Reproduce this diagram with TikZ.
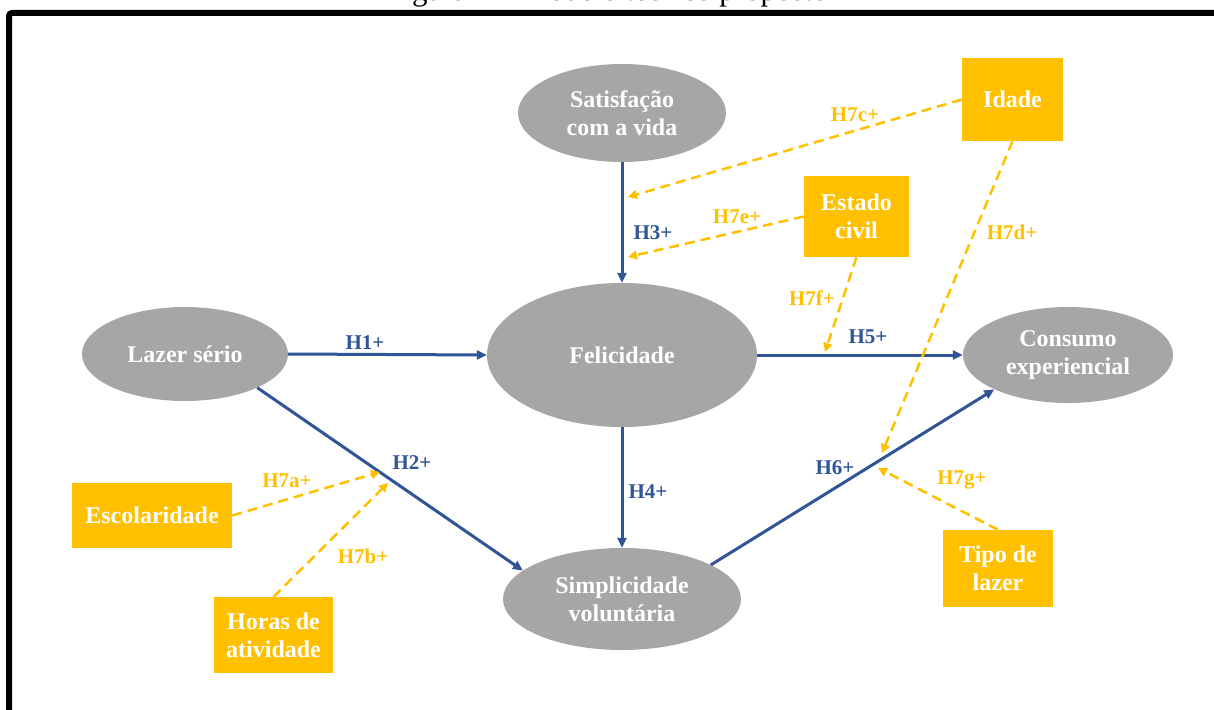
\documentclass[tikz,border=0pt]{standalone}
\usepackage{fontspec}
\setmainfont{Liberation Serif}
\usetikzlibrary{shapes.geometric,arrows.meta}
\definecolor{nodegray}{HTML}{A6A6A6}
\definecolor{gold}{HTML}{FFC000}
\definecolor{pathblue}{HTML}{2F5597}
\begin{document}
\begin{tikzpicture}[x=1pt,y=-1pt,
  latent/.style={ellipse, fill=nodegray, text=white, align=center, inner sep=0pt,
    font=\bfseries\fontsize{24}{28}\selectfont},
  control/.style={rectangle, fill=gold, text=white, align=center, inner sep=0pt,
    font=\bfseries\fontsize{24}{28}\selectfont},
  effect/.style={draw=pathblue, line width=3pt, -{Triangle[length=10pt,width=9pt]}},
  moderation/.style={draw=gold, line width=2.5pt, dash pattern=on 10pt off 6pt,
    -{Triangle[length=9pt,width=9pt]}},
  blab/.style={text=pathblue, inner sep=0pt, font=\bfseries\fontsize{21}{24}\selectfont},
  glab/.style={text=gold, inner sep=0pt, font=\bfseries\fontsize{21}{24}\selectfont}
]
\useasboundingbox (0,0) rectangle (1214,709);
\clip (0,0) rectangle (1214,709);

% caption and frame
\node[anchor=base, inner sep=0pt, font=\fontsize{31}{31}\selectfont] (caption) at (607,1)
  {Figura 7 -- Modelo teórico proposto};
\draw[line width=6pt, rounded corners=3pt] (9,760) -- (9,13) -- (1260,13);

% constructs
\node[latent, minimum width=208pt, minimum height=98pt] (sat) at (622,113) {Satisfação\\com a vida};
\node[latent, minimum width=270pt, minimum height=144pt] (fel) at (622,355) {Felicidade};
\node[latent, minimum width=206pt, minimum height=94pt] (laz) at (185,354) {Lazer sério};
\node[latent, minimum width=210pt, minimum height=96pt] (con) at (1068,355) {Consumo\\experiencial};
\node[latent, minimum width=238pt, minimum height=102pt] (sim) at (622,599) {Simplicidade\\voluntária};

% moderators
\node[control, minimum width=101pt, minimum height=83pt] (ida) at (1012.5,99.5) {Idade};
\node[control, minimum width=105pt, minimum height=81pt] (est) at (856.5,216.5) {Estado\\civil};
\node[control, minimum width=160pt, minimum height=65pt] (esc) at (152,515.5) {Escolaridade};
\node[control, minimum width=119pt, minimum height=76pt] (hor) at (273.5,635) {Horas de\\atividade};
\node[control, minimum width=110pt, minimum height=77pt] (tip) at (998,568.5) {Tipo de\\lazer};

% direct effects
\draw[effect] (laz.east) -- (fel.west);
\draw[effect] (laz.-25) -- (sim.164);
\draw[effect] (sat.south) -- (fel.north);
\draw[effect] (fel.south) -- (sim.north);
\draw[effect] (fel.east) -- (con.west);
\draw[effect] (sim.21) -- (con.205.6);

% moderation targets on the paths
\coordinate (m3c) at (628,197);
\coordinate (m3e) at (628,257);
\coordinate (m5f) at (825,352);
\coordinate (m6d) at (882,453);
\coordinate (m6g) at (878,468);
\coordinate (m2a) at (380,472);
\coordinate (m2b) at (388,483);

\draw[moderation] (ida.west) -- (m3c);
\draw[moderation] (est.west) -- (m3e);
\draw[moderation] (est.south) -- (m5f);
\draw[moderation] (ida.south) -- (m6d);
\draw[moderation] (tip.north) -- (m6g);
\draw[moderation] (esc.east) -- (m2a);
\draw[moderation] (hor.north) -- (m2b);

% hypothesis labels
\node[blab] (h1) at (365,343) {H1+};
\node[blab] (h2) at (412,463) {H2+};
\node[blab] (h3) at (653,233) {H3+};
\node[blab] (h4) at (648,492) {H4+};
\node[blab] (h5) at (868,337) {H5+};
\node[blab] (h6) at (835,468) {H6+};
\node[glab] (h7a) at (287,481) {H7a+};
\node[glab] (h7b) at (363,556) {H7b+};
\node[glab] (h7c) at (855,115) {H7c+};
\node[glab] (h7d) at (1012,232) {H7d+};
\node[glab] (h7e) at (737,217) {H7e+};
\node[glab] (h7f) at (812,298) {H7f+};
\node[glab] (h7g) at (962,480) {H7g+};
\end{tikzpicture}
\end{document}
